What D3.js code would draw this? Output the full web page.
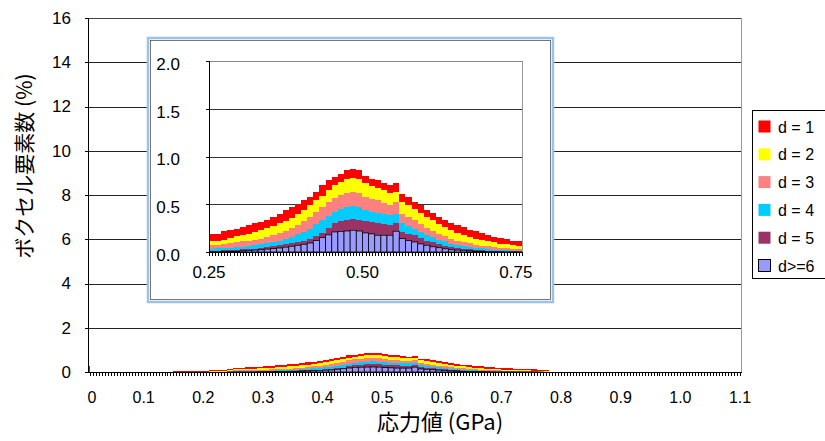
<!DOCTYPE html>
<html><head><meta charset="utf-8">
<script src="https://cdn.jsdelivr.net/npm/d3@7"></script>
<style>
body{margin:0;background:#fff}
svg{display:block}
text{font-family:"Liberation Sans",Arial,sans-serif;fill:#000}
.jp{font-family:"Noto Sans CJK JP","Liberation Sans",sans-serif}
</style>
</head><body><svg id="c" width="825" height="441"></svg>
<script>
// ---- data (stress bins, GPa; width 0.01) ----
const stress = [0.00,0.15,0.16,0.17,0.18,0.19,0.20,0.21,0.22,0.23,0.24,
 0.25,0.26,0.27,0.28,0.29,0.30,0.31,0.32,0.33,0.34,0.35,0.36,0.37,0.38,0.39,
 0.40,0.41,0.42,0.43,0.44,0.45,0.46,0.47,0.48,0.49,0.50,0.51,0.52,0.53,0.54,
 0.55,0.56,0.57,0.58,0.59,0.60,0.61,0.62,0.63,0.64,0.65,0.66,0.67,0.68,0.69,
 0.70,0.71,0.72,0.73,0.74,0.75,0.76,0.77];
const d1 = [0.25,0.05,0.04,0.04,0.04,0.04,0.04,0.04,0.04,0.04,0.06,
 0.075,0.07,0.09,0.08,0.075,0.08,0.09,0.09,0.08,0.09,0.10,0.10,0.115,0.11,0.10,
 0.10,0.09,0.09,0.11,0.10,0.09,0.09,0.10,0.10,0.10,0.08,0.07,0.08,0.075,0.08,
 0.09,0.09,0.09,0.07,0.08,0.07,0.08,0.08,0.07,0.07,0.08,0.085,0.075,0.08,0.075,
 0.07,0.06,0.063,0.058,0.043,0.049,0.05,0.05];
const d2 = [0,0,0.01,0.01,0.01,0.01,0.01,0.02,0.02,0.02,0.04,
 0.045,0.045,0.05,0.06,0.07,0.07,0.075,0.08,0.09,0.095,0.095,0.105,0.105,0.11,0.12,
 0.12,0.12,0.12,0.12,0.13,0.13,0.13,0.14,0.14,0.14,0.14,0.13,0.13,0.135,0.13,
 0.11,0.12,0.12,0.12,0.12,0.115,0.11,0.10,0.095,0.09,0.08,0.07,0.065,0.063,0.057,
 0.05,0.048,0.042,0.042,0.042,0.036,0.03,0.02];
const d3s = [0,0,0.01,0.01,0.01,0.01,0.01,0.01,0.01,0.01,0.03,
 0.035,0.038,0.04,0.045,0.05,0.055,0.055,0.06,0.06,0.065,0.07,0.075,0.08,0.09,0.095,
 0.11,0.125,0.13,0.14,0.14,0.15,0.15,0.15,0.15,0.15,0.14,0.14,0.13,0.11,0.105,
 0.12,0.10,0.10,0.085,0.08,0.075,0.065,0.06,0.055,0.053,0.045,0.042,0.036,0.032,0.031,
 0.03,0.027,0.025,0.023,0.021,0.02,0.012,0.01];
const d4 = [0,0,0,0,0,0,0,0.01,0.01,0.01,0.01,
 0.021,0.022,0.023,0.025,0.026,0.028,0.03,0.035,0.04,0.04,0.045,0.05,0.06,0.07,0.08,
 0.09,0.105,0.12,0.13,0.13,0.12,0.13,0.13,0.13,0.13,0.12,0.11,0.11,0.11,0.105,
 0.10,0.09,0.08,0.07,0.06,0.06,0.055,0.05,0.045,0.035,0.032,0.028,0.027,0.025,0.02,
 0.016,0.015,0.013,0.012,0.01,0.006,0.005,0];
const d5 = [0,0,0,0,0,0,0,0,0,0,0.008,
 0.011,0.012,0.013,0.015,0.017,0.015,0.013,0.015,0.016,0.02,0.025,0.028,0.03,0.03,0.035,
 0.04,0.046,0.05,0.05,0.07,0.09,0.105,0.12,0.123,0.12,0.12,0.12,0.125,0.115,0.105,
 0.083,0.07,0.07,0.07,0.065,0.05,0.045,0.035,0.031,0.028,0.023,0.018,0.015,0.013,0.012,
 0.011,0.007,0.005,0.003,0.002,0.002,0.002,0];
const d6 = [0,0,0,0,0,0,0,0,0,0,0.002,
 0.003,0.003,0.004,0.005,0.007,0.012,0.017,0.02,0.024,0.03,0.035,0.042,0.05,0.06,0.07,
 0.08,0.094,0.12,0.15,0.18,0.21,0.215,0.22,0.227,0.22,0.20,0.19,0.175,0.175,0.175,
 0.217,0.14,0.12,0.105,0.085,0.07,0.055,0.045,0.034,0.024,0.02,0.017,0.012,0.007,0.005,
 0.003,0.003,0.002,0.002,0.002,0.002,0.001,0];
const binWidth = 0.01;

const seriesKeys   = ["d1","d2","d3","d4","d5","d6"];
const seriesNames  = ["d = 1","d = 2","d = 3","d = 4","d = 5","d>=6"];
const seriesColors = ["#FF0000","#FFFF00","#FF8080","#00CCFF","#993366","#9999FF"];

const xTickValues = [0,0.1,0.2,0.3,0.4,0.5,0.6,0.7,0.8,0.9,1.0,1.1];
const xTickLabels = ["0","0.1","0.2","0.3","0.4","0.5","0.6","0.7","0.8","0.9","1.0","1.1"];
const yTickValues = [0,2,4,6,8,10,12,14,16];
const insetXTickValues = [0.25,0.50,0.75];
const insetXTickLabels = ["0.25","0.50","0.75"];
const insetYTickValues = [0,0.5,1.0,1.5,2.0];
const insetYTickLabels = ["0.0","0.5","1.0","1.5","2.0"];

const xTitle = "応力値 (GPa)";
const yTitle = "ボクセル要素数 (%)";

// ---- build stacked table ----
const rows = stress.map((s,i)=>({s, d1:d1[i], d2:d2[i], d3:d3s[i], d4:d4[i], d5:d5[i], d6:d6[i]}));
const stackOrder = ["d6","d5","d4","d3","d2","d1"];
const stacked = d3.stack().keys(stackOrder)(rows);
const colorOf = {}; seriesKeys.forEach((k,i)=>colorOf[k]=seriesColors[i]);

const svg = d3.select("#c");
const defs = svg.append("defs");

function drawBars(g, x, y, clipId){
  const layerG = g.append("g").attr("clip-path",`url(#${clipId})`);
  const order = stacked.filter(l=>l.key!=="d6").concat(stacked.filter(l=>l.key==="d6"));
  order.forEach(layer=>{
    const isBar = layer.key==="d6";
    layerG.append("g").selectAll("rect")
      .data(layer.filter(d=>d[1]-d[0]>0))
      .join("rect")
      .attr("x", d=>x(d.data.s))
      .attr("width", d=>Math.max(0.5, x(d.data.s+binWidth)-x(d.data.s)))
      .attr("y", d=>y(d[1]))
      .attr("height", d=>Math.max(0.5, y(d[0])-y(d[1])))
      .attr("fill", colorOf[layer.key])
      .attr("stroke", isBar ? "#000" : "none")
      .attr("stroke-width", isBar ? 0.8 : 0)
      .attr("shape-rendering", isBar ? "auto" : "crispEdges");
  });
}

// ---- main chart ----
const M = {left:88, right:741, top:18, bottom:372};
const x = d3.scaleLinear().domain([0,1.1]).range([84,740]);
const y = d3.scaleLinear().domain([0,16]).range([M.bottom, M.top]);

defs.append("clipPath").attr("id","clipMain").append("rect")
  .attr("x",M.left).attr("y",M.top).attr("width",M.right-M.left).attr("height",M.bottom-M.top);

const main = svg.append("g");
main.append("g").selectAll("line").data(yTickValues.filter(v=>v>0))
  .join("line")
  .attr("x1",M.left).attr("x2",M.right)
  .attr("y1",d=>Math.round(y(d))+0.5).attr("y2",d=>Math.round(y(d))+0.5)
  .attr("stroke",d=>d===16?"#444":"#222").attr("stroke-width",1);
main.append("line").attr("x1",M.right+0.5).attr("x2",M.right+0.5)
  .attr("y1",M.top).attr("y2",M.bottom).attr("stroke","#999");

drawBars(main, x, y, "clipMain");

main.append("line").attr("x1",M.left+0.5).attr("x2",M.left+0.5)
  .attr("y1",M.top).attr("y2",M.bottom+0.5).attr("stroke","#000");
main.append("line").attr("x1",M.left).attr("x2",M.right+1)
  .attr("y1",M.bottom+0.5).attr("y2",M.bottom+0.5).attr("stroke","#000");
main.append("g").selectAll("line").data(yTickValues).join("line")
  .attr("x1",M.left-3).attr("x2",M.left)
  .attr("y1",d=>Math.round(y(d))+0.5).attr("y2",d=>Math.round(y(d))+0.5).attr("stroke","#000");
main.append("g").selectAll("text").data(yTickValues).join("text")
  .attr("x",71).attr("y",d=>y(d)).attr("dy","0.35em")
  .attr("text-anchor","end").attr("font-size",17).text(d=>d);
const minor = d3.range(0, 221).map(i=>i*0.005);
main.append("g").selectAll("line").data(minor).join("line")
  .attr("x1",d=>Math.round(x(d))+0.5).attr("x2",d=>Math.round(x(d))+0.5)
  .attr("y1",M.bottom).attr("y2",M.bottom+4)
  .attr("stroke","#000").attr("stroke-width",1)
  .attr("display",d=>(x(d)<M.left||x(d)>M.right)?"none":null);
main.append("g").selectAll("text").data(xTickValues).join("text")
  .attr("x",(d,i)=>Math.max(x(d), M.left+4)).attr("y",397).attr("dy","0.35em")
  .attr("text-anchor","middle").attr("font-size",16).text((d,i)=>xTickLabels[i]);

// titles
svg.append("text").attr("class","jp").attr("x",440).attr("y",430)
  .attr("text-anchor","middle").attr("font-size",22).text(xTitle);
svg.append("text").attr("class","jp")
  .attr("transform","translate(32,166) rotate(-90)")
  .attr("text-anchor","middle").attr("font-size",21).text(yTitle);

// ---- inset ----
const box = {x:147, y:37, w:407, h:266};
svg.append("rect").attr("x",box.x+1).attr("y",box.y+1).attr("width",box.w-2).attr("height",box.h-2)
  .attr("fill","#fff").attr("stroke","#9CC3E6").attr("stroke-width",2.5);
svg.append("rect").attr("x",box.x+3.5).attr("y",box.y+3.5).attr("width",box.w-7).attr("height",box.h-7)
  .attr("fill","none").attr("stroke","#555").attr("stroke-width",0.8);

const I = {left:209, right:522, top:61, bottom:252};
const xi = d3.scaleLinear().domain([0.25,0.76]).range([I.left,I.right]);
const yi = d3.scaleLinear().domain([0,2]).range([I.bottom,I.top]);
defs.append("clipPath").attr("id","clipInset").append("rect")
  .attr("x",I.left).attr("y",I.top).attr("width",I.right-I.left).attr("height",I.bottom-I.top);

const ins = svg.append("g");
ins.append("g").selectAll("line").data(insetYTickValues.filter(v=>v>0)).join("line")
  .attr("x1",I.left).attr("x2",I.right)
  .attr("y1",d=>Math.round(yi(d))+0.5).attr("y2",d=>Math.round(yi(d))+0.5)
  .attr("stroke",d=>d===2?"#888":"#333");
ins.append("line").attr("x1",I.right+0.5).attr("x2",I.right+0.5)
  .attr("y1",I.top).attr("y2",I.bottom).attr("stroke","#999");

drawBars(ins, xi, yi, "clipInset");

ins.append("line").attr("x1",I.left+0.5).attr("x2",I.left+0.5)
  .attr("y1",I.top).attr("y2",I.bottom+0.5).attr("stroke","#000");
ins.append("line").attr("x1",I.left).attr("x2",I.right+1)
  .attr("y1",I.bottom+0.5).attr("y2",I.bottom+0.5).attr("stroke","#000");
ins.append("g").selectAll("line").data(insetYTickValues).join("line")
  .attr("x1",I.left-3).attr("x2",I.left)
  .attr("y1",d=>Math.round(yi(d))+0.5).attr("y2",d=>Math.round(yi(d))+0.5).attr("stroke","#000");
const iminor = d3.range(0, 103).map(i=>0.25+i*0.005);
ins.append("g").selectAll("line").data(iminor).join("line")
  .attr("x1",d=>Math.round(xi(d))+0.5).attr("x2",d=>Math.round(xi(d))+0.5)
  .attr("y1",I.bottom).attr("y2",I.bottom+4).attr("stroke","#000")
  .attr("display",d=>xi(d)>I.right+0.5?"none":null);
ins.append("g").selectAll("text").data(insetYTickValues).join("text")
  .attr("x",180).attr("y",d=>yi(d)+3).attr("dy","0.35em")
  .attr("text-anchor","end").attr("font-size",17).text((d,i)=>insetYTickLabels[i]);
ins.append("g").selectAll("text").data(insetXTickValues).join("text")
  .attr("x",d=>xi(d)).attr("y",272).attr("dy","0.35em")
  .attr("text-anchor","middle").attr("font-size",17).text((d,i)=>insetXTickLabels[i]);

// ---- legend ----
const lg = svg.append("g");
lg.append("rect").attr("x",752.5).attr("y",110.5).attr("width",80).attr("height",168)
  .attr("fill","#fff").attr("stroke","#000");
const items = lg.selectAll("g.it").data(seriesNames).join("g").attr("class","it")
  .attr("transform",(d,i)=>`translate(0,${127+i*27.8})`);
items.append("rect").attr("x",758.5).attr("y",-6.5).attr("width",12).attr("height",12)
  .attr("fill",(d,i)=>seriesColors[i])
  .attr("stroke",(d,i)=>i===5?"#000":"none");
items.append("text").attr("x",778).attr("y",0).attr("dy","0.35em")
  .attr("font-size",16).text(d=>d);
</script>
</body></html>
